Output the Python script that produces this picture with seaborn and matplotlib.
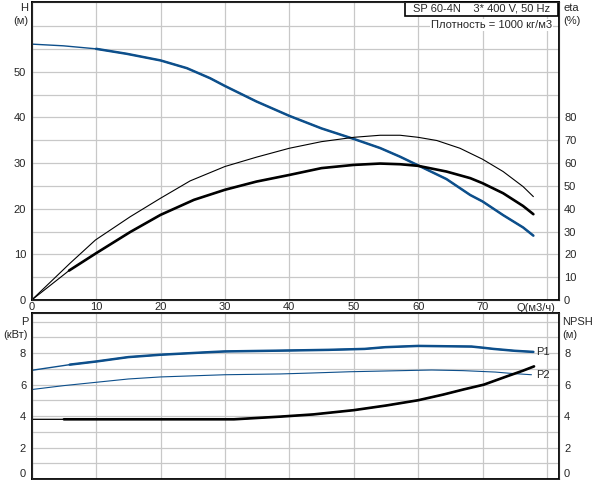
import numpy as np
import pandas as pd
import seaborn as sns
import matplotlib.pyplot as plt
from matplotlib.patches import Rectangle

# --- данные ---
q_h = [0, 4.9, 10, 14.75, 20, 24.1, 27.7, 30, 34.9, 40, 45, 50, 54.1, 57.2, 60,
       64.4, 68.1, 70, 73.2, 76.3, 77.9]
h_m = [56.07, 55.7, 55.04, 53.95, 52.5, 50.8, 48.6, 46.9, 43.5, 40.35, 37.6, 35.3,
       33.3, 31.4, 29.5, 26.5, 23.0, 21.6, 18.6, 15.9, 14.1]

q_eta1 = [0, 5.8, 10, 15.3, 20, 25.2, 30, 34.9, 40, 45, 50, 54.1, 57.2, 60, 64.4,
          68.1, 70, 73.2, 76.3, 77.9]
eta1 = [0, 12.9, 20.5, 29.8, 37.3, 43.9, 48.3, 51.9, 54.8, 57.8, 59.2, 59.8, 59.5,
        58.8, 56.3, 53.4, 51.2, 46.8, 41.2, 37.6]

q_eta2 = [0, 5.95, 9.9, 15.3, 20, 24.6, 30, 34.9, 40, 45, 50, 54.1, 57.2, 60, 62.9,
          66.5, 70, 73.2, 76.3, 77.9]
eta2 = [0, 16.1, 26.3, 36.5, 44.6, 52.2, 58.5, 62.6, 66.5, 69.4, 71.3, 72.2, 72.2,
        71.3, 69.9, 66.5, 61.7, 56.3, 49.7, 45.3]

q_p1 = [0, 5.9, 10, 15, 20, 27.4, 30, 38.5, 46.1, 51.7, 54.9, 60, 68.3, 70.2, 71.7,
        75, 77.9]
p1 = [6.9, 7.26, 7.46, 7.74, 7.89, 8.05, 8.1, 8.15, 8.2, 8.26, 8.37, 8.45, 8.41, 8.33,
      8.26, 8.14, 8.07]

q_p2 = [0, 5, 10, 15, 20, 30, 38.6, 43.5, 49.4, 55.1, 62.1, 67, 72, 74.3, 77.6]
p2 = [5.68, 5.93, 6.14, 6.35, 6.48, 6.62, 6.67, 6.73, 6.81, 6.86, 6.92, 6.88, 6.79,
      6.71, 6.62]

q_npsh = [0, 5, 10, 20, 31.4, 38.6, 43.7, 50, 55.1, 60, 63.9, 67, 70.2, 73.8, 76.3, 78]
npsh = [3.79, 3.79, 3.79, 3.79, 3.79, 3.96, 4.1, 4.37, 4.67, 5.0, 5.36, 5.68, 5.99,
        6.52, 6.88, 7.15]

x_ticks = [0, 10, 20, 30, 40, 50, 60, 70]
h_ticks = [0, 10, 20, 30, 40, 50]
eta_ticks = [0, 10, 20, 30, 40, 50, 60, 70, 80]
p_ticks = [0, 2, 4, 6, 8]

BLUE = "#0d4f8b"
GRID = "#c8c8c8"
FS = 8

sns.set_style("white")
plt.rcParams['font.family'] = ['Liberation Sans', 'DejaVu Sans']

fig = plt.figure(figsize=(5.92, 4.80), dpi=100)
ax_h = fig.add_axes([31.7 / 592, 1 - 300 / 480, 526.8 / 592, 298 / 480])
ax_p = fig.add_axes([31.7 / 592, 1 - 479 / 480, 526.8 / 592, 166 / 480])
ax_eta = ax_h.twinx()
ax_npsh = ax_p.twinx()

XMAX = 81.8
HMAX = 65.3
PMAX = 10.54


def curve(ax, q, v, color, lw_thin, lw_thick=None, qstart=5):
    df = pd.DataFrame({"Q": q, "v": v})
    sns.lineplot(data=df, x="Q", y="v", ax=ax, color=color, lw=lw_thin,
                 sort=False, estimator=None)
    if lw_thick:
        sns.lineplot(data=df[df["Q"] >= qstart], x="Q", y="v", ax=ax, color=color,
                     lw=lw_thick, sort=False, estimator=None)


for ax in (ax_h, ax_p):
    ax.set_xlim(0, XMAX)
    ax.set_xticks(np.arange(0, 81, 10))
    for x in np.arange(0, 81, 10):
        ax.axvline(x, color=GRID, lw=0.9, zorder=0)
    for s in ax.spines.values():
        s.set_color("black")
        s.set_linewidth(1.3)
    ax.tick_params(length=0)

for y in np.arange(5, 65, 5):
    ax_h.axhline(y, color=GRID, lw=0.9, zorder=0)
for y in np.arange(1, 11, 1):
    ax_p.axhline(y, color=GRID, lw=0.9, zorder=0)

# верхний график: напор и КПД
curve(ax_h, q_h, h_m, BLUE, 1.0, 1.8)
curve(ax_eta, q_eta2, eta2, "black", 0.8)
curve(ax_eta, q_eta1, eta1, "black", 0.8, 1.9, qstart=5.8)

ax_h.set_ylim(0, HMAX)
ax_eta.set_ylim(0, 2 * HMAX)
ax_eta.set_xlim(0, XMAX)
ax_h.set_yticks(h_ticks)
ax_h.set_yticklabels([str(t) for t in h_ticks], fontsize=FS)
ax_eta.set_yticks(eta_ticks)
ax_eta.set_yticklabels([str(t) for t in eta_ticks], fontsize=FS)
ax_h.set_xticks(x_ticks)
ax_h.set_xticklabels([str(t) for t in x_ticks], fontsize=FS)
ax_h.tick_params(axis="x", pad=1.5)
ax_h.tick_params(axis="y", pad=4)
ax_eta.tick_params(length=0, pad=4)
ax_eta.set_ylabel("")
ax_h.set_ylabel("")
ax_h.set_xlabel("")
fig.text(555 / 592, 1 - 308 / 480, "Q(м3/ч)", ha="right", va="center", fontsize=FS)

# нижний график: мощность и NPSH
curve(ax_p, q_p2, p2, BLUE, 0.8)
curve(ax_p, q_p1, p1, BLUE, 1.0, 1.8, qstart=5.9)
curve(ax_npsh, q_npsh, npsh, "black", 0.9, 1.9)

for ax in (ax_p, ax_npsh):
    ax.set_ylim(0, PMAX)
    ax.set_yticks(p_ticks)
    ax.set_yticklabels([str(t) for t in p_ticks], fontsize=FS)
    ax.set_xlabel("")
    ax.set_ylabel("")
ax_npsh.set_xlim(0, XMAX)
ax_npsh.tick_params(length=0, pad=4)
ax_p.tick_params(axis="y", pad=4)
ax_p.set_xticklabels([])
ax_p.get_yticklabels()[0].set_va("bottom")
ax_npsh.get_yticklabels()[0].set_va("bottom")

ax_p.text(78.4, p1[-1], "P1", ha="left", va="center", fontsize=FS)
ax_p.text(78.4, p2[-1], "P2", ha="left", va="center", fontsize=FS)

# подписи осей
fig.text(28 / 592, 1 - 8 / 480, "H", ha="right", va="center", fontsize=FS)
fig.text(28 / 592, 1 - 21 / 480, "(м)", ha="right", va="center", fontsize=FS)
fig.text(563 / 592, 1 - 8 / 480, "eta", ha="left", va="center", fontsize=FS)
fig.text(563 / 592, 1 - 21 / 480, "(%)", ha="left", va="center", fontsize=FS)
fig.text(28 / 592, 1 - 322 / 480, "P", ha="right", va="center", fontsize=FS)
fig.text(28 / 592, 1 - 335 / 480, "(кВт)", ha="right", va="center", fontsize=FS)
fig.text(562 / 592, 1 - 322 / 480, "NPSH", ha="left", va="center", fontsize=FS)
fig.text(562 / 592, 1 - 335 / 480, "(м)", ha="left", va="center", fontsize=FS)

# рамка с названием
bx0 = (405 - 31.7) / 526.8
by0 = (300 - 15.5) / 298
ax_h.add_patch(Rectangle((bx0, by0), 1 - bx0, 1 - by0, transform=ax_h.transAxes,
                         facecolor="white", edgecolor="black", lw=1.2, zorder=5,
                         clip_on=False))
ax_h.text((bx0 + 1) / 2, (by0 + 1) / 2, "SP 60-4N    3* 400 V, 50 Hz",
          transform=ax_h.transAxes, ha="center", va="center", fontsize=FS, zorder=6)
ax_h.text(0.9875, (300 - 25) / 298, "Плотность = 1000 кг/м3",
          transform=ax_h.transAxes, ha="right", va="center", fontsize=FS, zorder=6,
          bbox=dict(facecolor="white", edgecolor="none", pad=0.5))

fig.savefig("out.png", dpi=100)
